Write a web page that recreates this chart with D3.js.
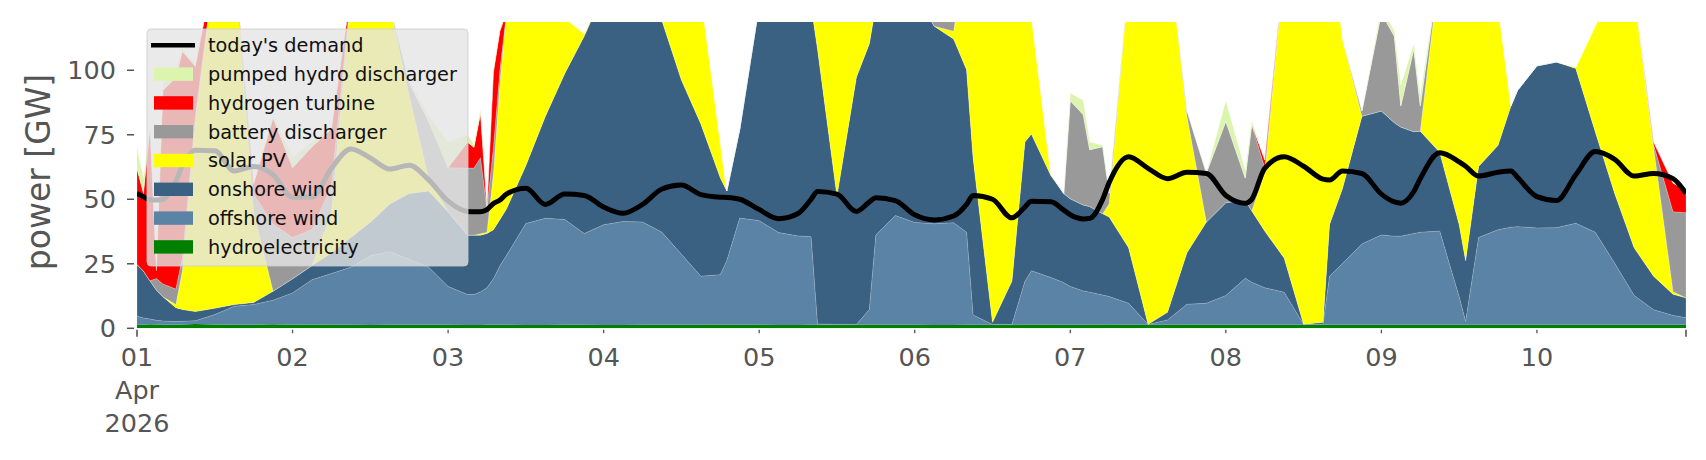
<!DOCTYPE html>
<html>
<head>
<meta charset="utf-8">
<script src="https://cdn.jsdelivr.net/npm/d3@7"></script>
<style>
  body { margin: 0; background: #fff; }
  svg { display: block; font-family: "DejaVu Sans", sans-serif; }
</style>
</head>
<body>
<svg width="1706" height="460"></svg>
<script>
// hours since 01 Apr 2026 00:00
var hours = [0,1,2,3,4,6,7,9,12,15,18,21,
  24,27,30,33,36,39,42,45,
  48,51,52,53,54,55,56,57,60,63,66,69,
  72,75,78,81,84,87,90,91,93,
  96,99,102,104,105,108,111,113,114,117,
  120,123,126,128,129,132,135,137,138,141,143,
  144,146,147,149,150,153,156,159,162,165,
  168,171,172,174,177,180,183,184,186,189,
  192,194,195,197,198,201,204,205,207,210,212,213,
  216,219,222,225,228,231,234,237,239];

// GW
var hydro = [1.4,1.4,1.6,1.5,1.4,1.4,1.5,1.7,1.5,1.4,1.4,1.6,
  1.4,1.5,1.4,1.4,1.3,1.4,1.4,1.4,
  1.4,1.3,1.3,1.3,1.4,1.4,1.4,1.4,1.3,1.3,1.4,1.4,
  1.3,1.3,1.4,1.4,1.4,1.4,1.5,1.4,1.4,
  1.4,1.3,1.3,1.4,1.4,1.4,1.4,1.5,1.4,1.4,
  1.4,1.3,1.3,1.4,1.4,1.4,1.4,1.4,1.5,1.4,1.4,
  1.4,1.4,1.4,1.5,1.5,1.4,1.4,1.4,1.5,1.4,
  1.4,1.4,1.4,1.4,1.4,1.4,1.4,1.4,1.4,1.4,
  1.4,1.4,1.4,1.4,1.4,1.4,1.4,1.4,1.4,1.4,1.4,1.4,
  1.4,1.4,1.4,1.4,1.4,1.4,1.4,1.4,1.4];
var offshore = [3.3,2.6,2,1.6,1.4,1.2,1.2,1.2,3.8,7.1,7.8,9.3,
  12.3,17.3,19.8,22.3,26.8,28.3,25.3,22.3,
  14.8,11.8,11.8,12.8,14.3,17.8,22.8,26.8,39.3,41.3,40.8,35.3,
  38.8,40.1,39.8,35.8,27.3,18.8,19.3,24.8,41.3,
  40.3,35.8,34.5,34.1,0.3,0.1,0.1,5.8,34.8,42.3,
  39.6,39.2,39.6,35.8,3.8,0.1,0.1,16.8,20.8,18.3,16.3,
  14.8,13.1,12.6,11.4,10.8,8.3,0.1,1.8,7.8,8.3,
  11.3,18,16.4,14.3,12.6,0.1,0.1,18.8,23.8,31.3,
  34.8,34.3,34.3,35.3,35.8,36.3,10.8,1.3,33.8,36.8,37.8,38,
  37.5,37.6,39.3,35.8,23.8,11.3,5.8,3.6,2.7];
var onshore = [20,18.2,14.8,11.7,9.4,5.4,4.6,3.6,2.5,0.7,0.8,3.5,
  5.5,5.5,8,11.5,13,18.5,25.5,29.5,
  29,23,23,22,21,19,18,18,22.5,39.5,56.5,76.5,
  90,96.7,91,82,67.5,59,37.5,27,34.5,
  83.5,98,99.3,89.7,106.5,49.8,95.8,103,89,91.5,
  89.2,76.6,71.2,63,61,0.8,16.8,54,53,39.5,34.5,
  34,33.3,33.2,31.5,30.8,21.5,0.1,3,20,31.5,
  36,30.3,27.7,22,13.2,0.1,0.8,20,29,49.5,
  48,44,42.3,39.5,39.2,30.5,28,23.5,27.5,32.7,47,52.8,
  62.8,64.2,60,39,27,18.5,13,8.2,7.7];
var solar = [0,0,0,0,0,1.2,15,74,132.5,135,35,0,
  0,0,16,95,99,77,38,5,
  0,0,0,0.5,0.5,22,53,76,77,43,21.5,1,
  0,0,5,40,60,50,14,0,0,
  0,0,10,40,47,90,60,30,20,0,
  0,0,3,50,80,133,120,58,46,0.5,0,
  0,0,0,0,5.2,104,148.7,144,53,0,
  0,0,0,22.5,113,148.7,158,120,58,0,
  0,0,0,0,0,72,110,124,97.5,54.3,0,0,
  0,0,0.5,41,83,99,50,1,0];
var battery = [0,0,0,4.5,5,6,5,2,0,0,7,26,
  16,14,10,0,0,0,5,22,
  17,26,26,29.5,9,10,5,0,0,0,0,0,
  0,0,0,0,0,0,0,0,0,
  0,0,0,0,0,0,0,0,0,0,
  0,8,15,0,0,0,0,0,0,0,0,
  38,35,22,26,4,0,0,0,2,19,
  31.5,8.5,33.5,2,0,0,0,0,0,2,
  38,33.5,8.2,32,9.8,0,0,0,0,0,0,0,
  0,0,0,0,0,0,1,31,33];
var hydrogen = [37,30,59,3,75,82,80,19,0,0,4,41,
  27,32,22,0,0,0,0,0,
  0,10,8,17,0.5,29,15,0,0,0,0,0,
  0,0,0,0,0,0,0,0,0,
  0,0,0,0,0,0,0,0,0,0,
  0,0,0,0,0,0,0,0,0,0,0,
  0,0,0,0,0,0,0,0,0,0,
  0,0,0,3,0,0,0,0,0,0,
  0,0,0,0,0,0,0,0,0,0,0,0,
  0,0,0,0,0,0,1,11,8.9];
var pumped = [8.5,6,1,1,2,3,1,1,0,0,1,1,
  4,2,1,0,0,0,1,2,
  10,3,1,2,0.5,1,1,0,0,0,0,0,
  0,0,0,0,0,0,0,0,0,
  0,0,0,0,0,0,0,0,0,0,
  0,0,0,0,0,0,0,0,0,0,0,
  3,5.5,3,0.5,1,0,0,0,0,0,
  8,3,1.5,0,0,0,0,0,0,0,
  2,2,8,2,4,0,0,0,0,0,0,0,
  0,0,0,0,0,0,0,0,0];
var demand = [52.3,51,49.8,49.7,50,57,63,69,68.8,61,62.7,59.5,
  50.8,50.9,62,69.5,66,61.7,63.2,57.5,
  49.3,45.3,45.2,45.2,46,48.4,49.7,52,54.3,48,52,51.5,
  47,44.6,48,54,55.5,51.8,50.8,50.7,50,
  46,42.5,44.5,50,53,52,45.3,49,50.6,49.5,
  44,42,43.5,48,51.5,50,42.8,47,49.2,49,45.8,
  44,42.4,42.6,50,56.5,66.5,62,58,60.5,60,
  51.5,48.5,50,62,66.5,62.8,57.8,57.5,61,60,
  52,49,48.5,53,58,68,64.5,62.8,59,60.5,61,58.5,
  51,49.5,59.5,68.5,65.5,59,60,58,52.3];

var seriesNames = ['hydroelectricity', 'offshore wind', 'onshore wind', 'solar PV', 'battery discharger', 'hydrogen turbine', 'pumped hydro discharger'];
var seriesValues = [hydro, offshore, onshore, solar, battery, hydrogen, pumped];
var seriesColors = ['#008000', '#5b83a6', '#3b6182', '#ffff00', '#999999', '#ff0000', '#dcf5ae'];
var yTicks = [0, 25, 50, 75, 100];

var svg = d3.select('svg');
var margin = {top: 22, right: 20, bottom: 131.7, left: 137};
var width = 1706 - margin.left - margin.right;
var height = 460 - margin.top - margin.bottom;
var g = svg.append('g')
    .attr('transform', 'translate(' + margin.left + ',' + margin.top + ')');

var start = Date.UTC(2026, 3, 1);
var times = hours.map(function(h) { return new Date(start + h * 3600e3); });

var x = d3.scaleUtc()
  .domain([times[0], times[times.length - 1]])
  .range([0, width]);
var y = d3.scaleLinear()
  .domain([0, 118.7])
  .range([height, 0]);

var rows = hours.map(function(h, i) {
  var row = {t: times[i]};
  seriesNames.forEach(function(name, k) { row[name] = seriesValues[k][i]; });
  return row;
});
var stacked = d3.stack().keys(seriesNames)(rows);

svg.append('defs').append('clipPath').attr('id', 'plot')
  .append('rect').attr('width', width).attr('height', height);

var area = d3.area()
  .x(function(d) { return x(d.data.t); })
  .y0(function(d) { return y(d[0]); })
  .y1(function(d) { return y(d[1]); });

var plot = g.append('g').attr('clip-path', 'url(#plot)');
plot.selectAll('path.layer')
  .data(stacked)
  .enter().append('path')
    .attr('class', 'layer')
    .attr('d', area)
    .attr('fill', function(d, i) { return seriesColors[i]; })
    .attr('stroke', function(d, i) { return i > 1 ? '#ffffff' : 'none'; })
    .attr('stroke-opacity', 0.3)
    .attr('stroke-width', 0.7);

var line = d3.line()
  .x(function(d, i) { return x(times[i]); })
  .y(function(d) { return y(d); })
  .curve(d3.curveMonotoneX);

plot.append('path')
  .datum(demand)
  .attr('d', line)
  .attr('fill', 'none')
  .attr('stroke', '#000')
  .attr('stroke-width', 5)
  .attr('stroke-linejoin', 'round');

// y axis
var yAxis = g.append('g').attr('fill', '#555');
yAxis.selectAll('line')
  .data(yTicks)
  .enter().append('line')
    .attr('x1', -10).attr('x2', -3)
    .attr('y1', function(d) { return y(d); })
    .attr('y2', function(d) { return y(d); })
    .attr('stroke', '#555').attr('stroke-width', 1.5);
yAxis.selectAll('text')
  .data(yTicks)
  .enter().append('text')
    .attr('x', -21)
    .attr('y', function(d) { return y(d); })
    .attr('dy', '0.36em')
    .attr('text-anchor', 'end')
    .attr('font-size', 25.5)
    .text(function(d) { return d; });

g.append('text')
  .attr('transform', 'translate(' + (38 - margin.left) + ',' + (172 - margin.top) + ') rotate(-90)')
  .attr('text-anchor', 'middle')
  .attr('dy', '0.36em')
  .attr('font-size', 33)
  .attr('fill', '#555')
  .text('power [GW]');

// x axis
var days = d3.utcDay.range(new Date(start), x.domain()[1]);
var xAxis = g.append('g').attr('transform', 'translate(0,' + (height + 1.5) + ')').attr('fill', '#555');
xAxis.selectAll('line.minor')
  .data(days.slice(1))
  .enter().append('line')
    .attr('x1', function(d) { return x(d); })
    .attr('x2', function(d) { return x(d); })
    .attr('y1', 0).attr('y2', 3.5)
    .attr('stroke', '#555').attr('stroke-width', 1.3);
xAxis.selectAll('line.major')
  .data([x.domain()[0], x.domain()[1]])
  .enter().append('line')
    .attr('x1', function(d) { return x(d); })
    .attr('x2', function(d) { return x(d); })
    .attr('y1', 0).attr('y2', 7)
    .attr('stroke', '#555').attr('stroke-width', 1.6);
var fmt = d3.utcFormat('%d');
xAxis.selectAll('text')
  .data(days)
  .enter().append('text')
    .attr('x', function(d) { return x(d); })
    .attr('y', 36.5)
    .attr('text-anchor', 'middle')
    .attr('font-size', 25.5)
    .text(function(d) { return fmt(d); });
xAxis.append('text')
  .attr('x', 0).attr('y', 69.5)
  .attr('text-anchor', 'middle').attr('font-size', 25.5)
  .text(d3.utcFormat('%b')(x.domain()[0]));
xAxis.append('text')
  .attr('x', 0).attr('y', 102)
  .attr('text-anchor', 'middle').attr('font-size', 25.5)
  .text(d3.utcFormat('%Y')(x.domain()[0]));

// legend
var legendItems = [
  {name: "today's demand", color: '#000', line: true},
  {name: 'pumped hydro discharger', color: seriesColors[6]},
  {name: 'hydrogen turbine', color: seriesColors[5]},
  {name: 'battery discharger', color: seriesColors[4]},
  {name: 'solar PV', color: seriesColors[3]},
  {name: 'onshore wind', color: seriesColors[2]},
  {name: 'offshore wind', color: seriesColors[1]},
  {name: 'hydroelectricity', color: seriesColors[0]}
];
var legend = svg.append('g').attr('transform', 'translate(147,29)');
legend.append('rect')
  .attr('width', 321).attr('height', 237)
  .attr('rx', 4)
  .attr('fill', '#e5e5e5').attr('fill-opacity', 0.8)
  .attr('stroke', '#cccccc').attr('stroke-opacity', 0.8);
var entry = legend.selectAll('g.entry')
  .data(legendItems)
  .enter().append('g')
    .attr('class', 'entry')
    .attr('transform', function(d, i) { return 'translate(0,' + (16.3 + i * 28.8) + ')'; });
entry.filter(function(d) { return d.line; }).append('line')
  .attr('x1', 4).attr('x2', 48)
  .attr('stroke', function(d) { return d.color; })
  .attr('stroke-width', 4.5);
entry.filter(function(d) { return !d.line; }).append('rect')
  .attr('x', 7).attr('y', -6.7)
  .attr('width', 39).attr('height', 13.4)
  .attr('fill', function(d) { return d.color; });
entry.append('text')
  .attr('x', 61).attr('dy', '0.36em')
  .attr('font-size', 19.3)
  .attr('fill', '#111')
  .text(function(d) { return d.name; });
</script>
</body>
</html>
